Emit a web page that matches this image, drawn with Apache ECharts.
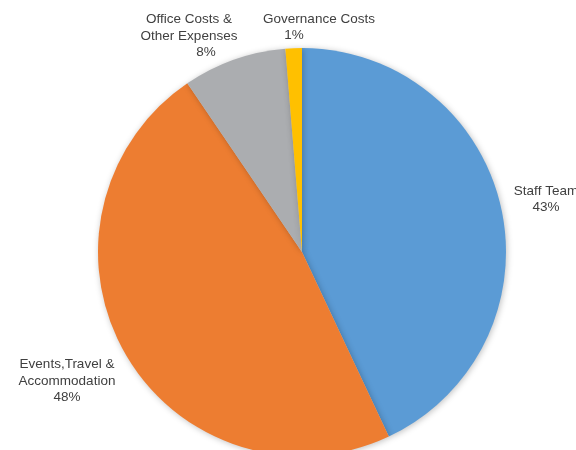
<!DOCTYPE html>
<html>
<head>
<meta charset="utf-8">
<script src="https://cdn.jsdelivr.net/npm/echarts@6/dist/echarts.min.js"></script>
<style>html,body{margin:0;padding:0;background:#fff;}#c{width:576px;height:450px;}</style>
</head>
<body>
<div id="c"></div>
<script>
var categories = ['Staff Team', 'Events,Travel &\nAccommodation', 'Office Costs &\nOther Expenses', 'Governance Costs'];
var values = [43, 47.5, 8.2, 1.3];
var colors = ['#5B9BD5', '#ED7D31', '#ABADB0', '#FFC000'];
// label anchor positions (layout only)
var labelPos = [[546, 199.5], [67, 381], [189, 36], [319, 27.5]];
var pctPad = [[0,0,0,0],[0,0,0,0],[0,0,0,34],[0,50,0,0]];
var FONT = 'Liberation Sans, Arial, sans-serif';

var chart = echarts.init(document.getElementById('c'));
chart.setOption({
  animation: false,
  series: [{
    type: 'pie',
    center: [302, 252],
    radius: 204,
    startAngle: 90,
    clockwise: true,
    percentPrecision: 0,
    data: categories.map(function (c, i) {
      return {
        name: c, value: values[i],
        itemStyle: { color: colors[i] },
        label: { rich: { p: { fontFamily: FONT, fontSize: 13.5, color: '#404040', lineHeight: 16.5, padding: pctPad[i] } } }
      };
    }),
    itemStyle: { shadowBlur: 6, shadowColor: 'rgba(0,0,0,0.25)', shadowOffsetX: 1, shadowOffsetY: 1 },
    label: {
      show: true,
      position: 'outside',
      alignTo: 'none',
      overflow: 'none',
      width: 300,
      formatter: function (p) { return p.name + '\n{p|' + p.percent + '%}'; },
      fontFamily: FONT,
      fontSize: 13.5,
      lineHeight: 16.5,
      color: '#404040',
      align: 'center'
    },
    labelLine: { show: false },
    labelLayout: function (params) {
      var p = labelPos[params.dataIndex];
      return { x: p[0], y: p[1], align: 'center', verticalAlign: 'middle', hideOverlap: false };
    },
    emphasis: { disabled: true }
  }]
});
</script>
</body>
</html>
